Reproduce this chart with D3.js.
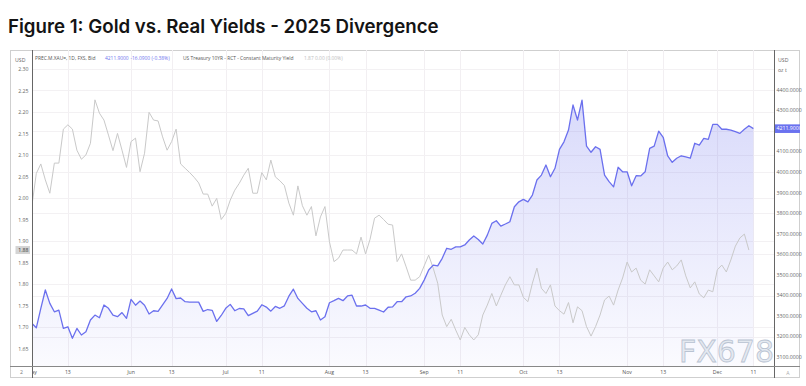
<!DOCTYPE html>
<html><head><meta charset="utf-8">
<script src="https://cdn.jsdelivr.net/npm/d3@7"></script>
<style>
html,body{margin:0;padding:0;background:#fff;}
svg{display:block;font-family:"Open Sans","Noto Sans",Arial,sans-serif;}
</style></head><body>
<svg id="chart" width="806" height="386"></svg>
<script>
// ---------- DATA ----------
const startDate = "2025-05-01"; // first trading day (weekdays only)
const titleText = "Figure 1: Gold vs. Real Yields - 2025 Divergence";
const goldValues = [
3265,3243,3338,3427,3362,3321,3329,3240,3248,3192,3240,3208,3224,3281,3305,3292,3354,3338,3305,3297,3317,3289,
3381,3353,3373,3353,3310,3326,3323,3355,3386,3432,3385,3388,3370,3368,3368,3368,3323,3332,3328,3274,3303,
3338,3357,3326,3337,3335,3302,3313,3324,3355,3344,3324,3347,3338,3350,3397,3431,3386,3362,3338,3321,3326,3281,3297,
3365,3375,3386,3375,3398,3402,3349,3349,3354,3338,3338,3329,3320,3343,3345,3370,3370,3394,3398,3411,3435,
3475,3524,3548,3544,3581,3630,3625,3637,3637,3646,3670,3690,3673,3651,3694,3751,3764,3738,3748,3759,3832,3856,
3868,3856,3889,3962,3986,4035,3978,4019,4111,4148,4205,4327,4254,4351,4127,4097,4124,4111,3986,3954,3929,4024,4002,4002,
3934,3983,3982,4002,4116,4127,4200,4170,4079,4048,4068,4080,4075,4068,4141,4132,4165,4160,4233,
4233,4209,4209,4205,4197,4189,4209,4226,4212
];
const yieldValues = [
1.981,2.058,2.080,2.043,2.012,2.082,2.082,2.161,2.171,2.161,2.112,2.091,2.101,2.128,2.229,2.198,2.182,2.147,2.111,2.151,2.112,2.072,
2.132,2.140,2.062,2.105,2.200,2.182,2.180,2.143,2.112,2.132,2.161,2.080,2.070,2.060,2.049,2.036,2.010,2.010,1.982,2.000,1.951,
1.965,1.996,2.019,2.035,2.054,2.070,2.012,2.012,2.060,2.043,2.089,2.050,2.041,2.030,1.989,1.961,2.029,1.983,1.961,1.981,1.913,1.957,1.981,
1.899,1.853,1.861,1.880,1.880,1.880,1.871,1.910,1.871,1.905,1.954,1.961,1.951,1.940,1.938,1.853,1.871,1.841,1.810,1.810,1.818,
1.843,1.868,1.838,1.803,1.729,1.702,1.719,1.694,1.671,1.700,1.683,1.671,1.683,1.729,1.752,1.779,1.750,1.775,1.799,1.818,
1.799,1.799,1.770,1.760,1.803,1.838,1.791,1.779,1.799,1.750,1.739,1.731,1.758,1.711,1.748,1.739,1.702,1.680,1.702,1.729,
1.764,1.773,1.752,1.787,1.815,1.852,1.829,1.838,1.810,1.801,1.834,1.820,1.806,1.838,1.852,1.834,1.843,1.857,1.820,1.792,
1.806,1.778,1.769,1.787,1.783,1.834,1.845,1.829,1.857,1.889,1.908,1.917,1.880
];
const leftTicks = [1.65,1.70,1.75,1.80,1.85,1.90,1.95,2.00,2.05,2.10,2.15,2.20,2.25,2.30];
const leftGrid = [1.70,1.80,1.90,2.00,2.10,2.20,2.30];
const rightTicks = [3100,3200,3300,3400,3500,3600,3700,3800,3900,4000,4100,4300,4400];
const rightGrid = [3200,3400,3600,3800,4000,4200,4400];
const xTickLabels = [
 ["2025-05-01","May"],["2025-05-13","13"],["2025-06-02","Jun"],["2025-06-13","13"],
 ["2025-07-01","Jul"],["2025-07-11","11"],["2025-08-01","Aug"],["2025-08-13","13"],
 ["2025-09-01","Sep"],["2025-09-11","11"],["2025-10-01","Oct"],["2025-10-13","13"],
 ["2025-11-03","Nov"],["2025-11-13","13"],["2025-12-01","Dec"],["2025-12-11","11"]
];
const legendGold = ["PREC.M.XAU=, 1D, FXS, Bid","4211.9000","-16.0900 (-0.38%)"];
const legendYield = ["US Treasury 10YR - RCT - Constant Maturity Yield","1.87","0.00","(0.00%)"];
const lastGold = 4211.9, lastYield = 1.88;

// ---------- HELPERS ----------
function bizIndex(ds){
  const s=new Date(startDate+"T00:00:00Z"), d=new Date(ds+"T00:00:00Z");
  let n=0; for(let t=new Date(s); t<d; t.setUTCDate(t.getUTCDate()+1)){const w=t.getUTCDay(); if(w!==0&&w!==6) n++;}
  return n;
}

const svg = d3.select("#chart");
const F = {L:10,R:800,T:50,B:378}; // frame
const P = {L:32,R:774,T:50,B:366}; // plot

const x = d3.scaleLinear().domain([0,160]).range([31.8,753.4]);
const yL = d3.scaleLinear().domain([1.65,2.30]).range([349,69.3]);
const yR = d3.scaleLinear().domain([3100,4400]).range([357.2,90]);

const defs = svg.append("defs");
defs.append("clipPath").attr("id","plotclip").append("rect")
  .attr("x",P.L).attr("y",P.T).attr("width",P.R-P.L).attr("height",P.B-P.T);
const grad = defs.append("linearGradient").attr("id","goldfill")
  .attr("gradientUnits","userSpaceOnUse").attr("x1",0).attr("x2",0).attr("y1",90).attr("y2",366);
grad.append("stop").attr("offset",0).attr("stop-color","#6d72ee").attr("stop-opacity",0.27);
grad.append("stop").attr("offset",1).attr("stop-color","#6d72ee").attr("stop-opacity",0.03);

// Title
const title = svg.append("text").attr("x",8).attr("y",33)
  .style("font-family","Inter, 'Open Sans', sans-serif").style("font-weight",600)
  .style("font-size","18px").attr("fill","#141414").text(titleText);
const tw = title.node().getComputedTextLength();
title.style("font-size",(18*431/tw)+"px");

// Frame
svg.append("rect").attr("x",F.L+0.5).attr("y",F.T+0.5).attr("width",F.R-F.L-1).attr("height",F.B-F.T-1)
  .attr("fill","#fff").attr("stroke","#cfcfcf");

// Grid
const grid = svg.append("g").attr("clip-path","url(#plotclip)");
grid.selectAll(".vg").data(xTickLabels).join("line")
  .attr("x1",d=>Math.round(x(bizIndex(d[0])))+0.5).attr("x2",d=>Math.round(x(bizIndex(d[0])))+0.5)
  .attr("y1",P.T).attr("y2",P.B).attr("stroke","#f2eff2");
grid.selectAll(".hgl").data(leftGrid).join("line")
  .attr("x1",P.L).attr("x2",P.R).attr("y1",d=>Math.round(yL(d))+0.5).attr("y2",d=>Math.round(yL(d))+0.5)
  .attr("stroke","#f3f1f3");
grid.selectAll(".hgr").data(rightGrid).join("line")
  .attr("x1",P.L).attr("x2",P.R).attr("y1",d=>Math.round(yR(d))+0.5).attr("y2",d=>Math.round(yR(d))+0.5)
  .attr("stroke","#f3f1f3");

// Series
const plot = svg.append("g").attr("clip-path","url(#plotclip)");
const goldData = goldValues.map((v,i)=>({i,v}));
const yieldData = yieldValues.map((v,i)=>({i,v}));
plot.append("path").datum(goldData)
  .attr("d",d3.area().x(d=>x(d.i)).y0(P.B).y1(d=>yR(d.v)))
  .attr("fill","url(#goldfill)");
plot.append("path").datum(yieldData)
  .attr("d",d3.line().x(d=>x(d.i)).y(d=>yL(d.v)))
  .attr("fill","none").attr("stroke","#c9c9c9").attr("stroke-width",1);
plot.append("path").datum(goldData)
  .attr("d",d3.line().x(d=>x(d.i)).y(d=>yR(d.v)))
  .attr("fill","none").attr("stroke","#6b70ee").attr("stroke-width",1.3).attr("stroke-linejoin","round");

// Axes lines
svg.append("line").attr("x1",P.L+0.5).attr("x2",P.L+0.5).attr("y1",F.T).attr("y2",F.B).attr("stroke","#666");
svg.append("line").attr("x1",P.R+0.5).attr("x2",P.R+0.5).attr("y1",F.T).attr("y2",F.B).attr("stroke","#666");
svg.append("line").attr("x1",F.L).attr("x2",F.R).attr("y1",P.B+0.5).attr("y2",P.B+0.5).attr("stroke","#888");

const fs = "5.2px";
// Left axis
const gl = svg.append("g");
gl.selectAll("text").data(leftTicks).join("text")
  .attr("x",28.5).attr("y",d=>yL(d)+1.8).attr("text-anchor","end")
  .style("font-size",fs).attr("fill","#666").text(d=>d3.format(".2f")(d));
svg.append("text").attr("x",15).attr("y",61.5).style("font-size",fs).attr("fill","#666").text("USD");
svg.append("rect").attr("x",15.5).attr("y",yL(lastYield)-4).attr("width",14.5).attr("height",8).attr("fill","#d4d4d4");
svg.append("text").attr("x",28.5).attr("y",yL(lastYield)+1.8).attr("text-anchor","end")
  .style("font-size",fs).attr("fill","#333").text(d3.format(".2f")(lastYield));

// Right axis
const gr = svg.append("g");
gr.selectAll("text").data(rightTicks).join("text")
  .attr("x",776.5).attr("y",d=>yR(d)+1.8)
  .style("font-size",fs).attr("fill","#666").text(d=>d3.format(".4f")(d));
svg.append("text").attr("x",778).attr("y",61.5).style("font-size",fs).attr("fill","#666").text("USD");
svg.append("text").attr("x",778).attr("y",71.5).style("font-size",fs).attr("fill","#666").text("oz t");
svg.append("rect").attr("x",775).attr("y",yR(lastGold)-4.3).attr("width",25).attr("height",8.6).attr("fill","#6a72ef");
svg.append("text").attr("x",776.5).attr("y",yR(lastGold)+1.8)
  .style("font-size",fs).attr("fill","#fff").text(d3.format(".4f")(lastGold));

// X axis labels
defs.append("clipPath").attr("id","xclip").append("rect").attr("x",P.L+1).attr("y",P.B+1).attr("width",P.R-P.L-1).attr("height",F.B-P.B-2);
const xg = svg.append("g").attr("clip-path","url(#xclip)");
xg.selectAll("text").data(xTickLabels).join("text")
  .attr("x",d=>x(bizIndex(d[0]))).attr("y",374.2).attr("text-anchor","middle")
  .style("font-size",fs).attr("fill","#555").text(d=>d[1]);
svg.append("text").attr("x",20).attr("y",374.2).style("font-size",fs).attr("fill","#777").text("2");
svg.append("text").attr("x",788).attr("y",374.5).attr("text-anchor","middle").style("font-size",fs).attr("fill","#aaa").text("A");

// Legend
const lg = svg.append("g").style("font-size","4.9px");
const pieces = [
  [legendGold[0],"#555",35],[legendGold[1],"#6d74ee",105],[legendGold[2],"#6d74ee",130.5],
  [legendYield[0],"#555",183],[legendYield[1],"#bdbdbd",304],[legendYield[2],"#bdbdbd",315],[legendYield[3],"#bdbdbd",326]
];
pieces.forEach(p=>{
  lg.append("text").attr("x",p[2]).attr("y",60).attr("fill",p[1]).text(p[0]);
});

// Watermark
svg.append("text").attr("x",679).attr("y",362).style("font-family","'DejaVu Sans', sans-serif")
  .style("font-size","30px").attr("textLength",95).attr("lengthAdjust","spacing")
  .attr("fill","rgba(226,231,239,0.9)").attr("stroke","#b9c3d2").attr("stroke-width",0.8).text("FX678");
</script>
</body></html>
